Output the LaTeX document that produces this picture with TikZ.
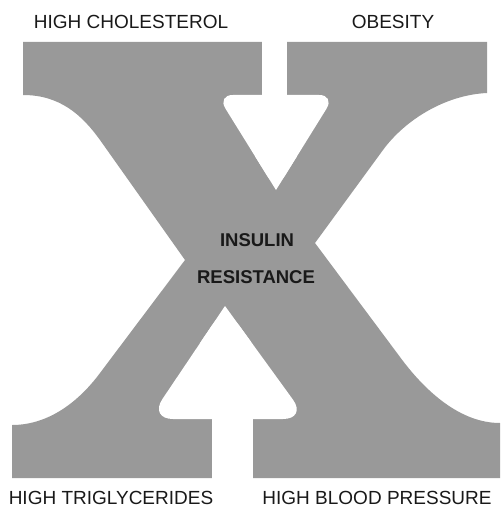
\documentclass[tikz,border=0pt]{standalone}
\usepackage{fontspec}
\setmainfont{Liberation Sans}
\definecolor{xgray}{RGB}{153,153,153}
\definecolor{ink}{RGB}{25,25,25}
\begin{document}
\begin{tikzpicture}[x=1pt,y=-1pt,
  lbl/.style={font=\fontsize{19}{19}\selectfont, text=ink, inner sep=0pt},
  core/.style={font=\fontsize{18.5}{18.5}\selectfont\bfseries, text=ink, inner sep=0pt},
  hole/.style={fill=white}]
\useasboundingbox (0,0) rectangle (501,508);
% the X
\fill[xgray] (23,42) -- (487,42) -- (487,93)
  .. controls (445,95) and (405,120) .. (383,150) -- (315,243) -- (400,357)
  .. controls (425,391) and (460,423) .. (500,423) -- (500,478) -- (12,478) -- (12,425)
  .. controls (50,425) and (80,400) .. (100,373) -- (185,260) -- (100,140)
  .. controls (82,115) and (60,95) .. (23,95) -- cycle;
% top (downward) arrow
\fill[hole] (262,38) rectangle (287,110);
\fill[hole, rounded corners=16pt] (217,95) -- (335,95) -- (276,190) -- cycle;
\fill[hole] (276,190) -- (254.9,156) -- (297.1,156) -- cycle;
% bottom (upward) arrow
\fill[hole] (212,410) rectangle (253,482);
\fill[hole, rounded corners=24pt] (149,419) -- (307,419) -- (225,306) -- cycle;
\fill[hole] (225,306) -- (199.9,343.3) -- (251.4,342.4) -- cycle;
% labels
\node[lbl] (chol) at (131,22) {HIGH CHOLESTEROL};
\node[lbl] (obes) at (393,22) {OBESITY};
\node[lbl] (trig) at (111,498) {HIGH TRIGLYCERIDES};
\node[lbl] (bp) at (377,498) {HIGH BLOOD PRESSURE};
\node[core] (ins) at (257,240) {INSULIN};
\node[core] (res) at (256,277) {RESISTANCE};
\end{tikzpicture}
\end{document}
